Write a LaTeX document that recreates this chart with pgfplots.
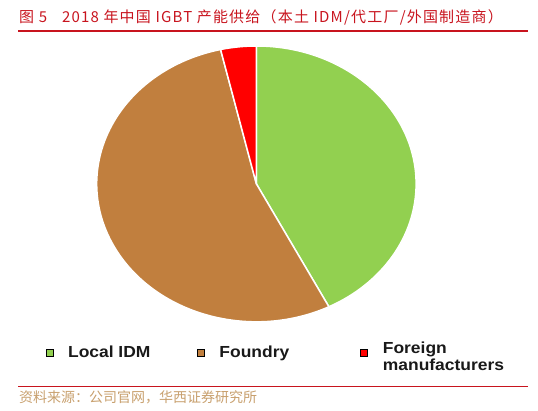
\documentclass[border=0pt]{standalone}
\usepackage{pgfplots}
\usepackage{pgfplotstable}
\pgfplotsset{compat=1.18}
\usepackage{fontspec}
\setmainfont{Liberation Sans}
\newfontfamily\cjk{Noto Sans CJK SC}
\newfontfamily\cjktitle{Noto Sans CJK SC}[LetterSpace=8]
\newfontfamily\legfont{Liberation Sans}[FakeStretch=1.09]

\definecolor{slice0}{RGB}{146,208,80}
\definecolor{slice1}{RGB}{193,127,62}
\definecolor{slice2}{RGB}{255,0,0}
\definecolor{titlered}{RGB}{200,20,30}
\definecolor{srccolor}{RGB}{200,160,110}

% share of 2018 IGBT supply, in %
\pgfplotstableread[col sep=comma]{
name,value
Local IDM,42.5
Foundry,53.9
Foreign manufacturers,3.6
}\piedata

\begin{document}
\begin{tikzpicture}
\begin{axis}[
    scale only axis,
    width=538bp, height=411bp,
    xmin=0, xmax=538, ymin=0, ymax=411,
    hide axis,
    clip=false,
    legend image code/.code={\fill[#1] (-3.5bp,-3.5bp) rectangle (3.5bp,3.5bp);},
    legend style={draw=none, fill=none, inner sep=0pt,
        at={(axis cs:45.5,58.3)}, anchor=west,
        nodes={inner sep=0pt, text=black!90,
            font=\legfont\bfseries\fontsize{16bp}{17bp}\selectfont},
        /tikz/every odd column/.append style={column sep=15bp}},
    legend columns=3,
]
\path (axis cs:0,0) rectangle (axis cs:538,411);
\def\startang{90}
\pgfplotsforeachungrouped \i in {0,1,2}{
    \pgfplotstablegetelem{\i}{value}\of\piedata
    \pgfmathsetmacro\endang{\startang-3.6*\pgfplotsretval}
    \edef\doslice{\noexpand\fill[fill=slice\i, draw=white, line width=1.5bp, line join=round]
        (axis cs:256.4,227.1) -- ++(\startang:159.7bp and 137.9bp)
        arc[start angle=\startang, end angle=\endang, x radius=159.7bp, y radius=137.9bp] -- cycle;}
    \doslice
    \global\let\startang\endang
}

\addlegendimage{fill=slice0}
\addlegendentry{\makebox[129bp][l]{Local IDM}}
\addlegendimage{fill=slice1}
\addlegendentry{\makebox[141bp][l]{Foundry}}
\addlegendimage{fill=slice2}
\addlegendentry{\begin{tabular}{@{}l@{}}Foreign\\manufacturers\end{tabular}}

\node[anchor=west, inner sep=0pt, text=titlered, font=\cjktitle\fontsize{15bp}{15bp}\selectfont]
    at (axis cs:19,394) {图 5\quad 2018 年中国 IGBT 产能供给（本土 IDM/代工厂/外国制造商）};
\draw[titlered, line width=2bp] (axis cs:18,380) -- (axis cs:528,380);
\draw[titlered, line width=1.2bp] (axis cs:18,24.3) -- (axis cs:528,24.3);
\node[anchor=west, inner sep=0pt, text=srccolor, font=\cjk\fontsize{14bp}{14bp}\selectfont]
    at (axis cs:19,14) {资料来源：公司官网，华西证券研究所};
\end{axis}
\end{tikzpicture}
\end{document}
